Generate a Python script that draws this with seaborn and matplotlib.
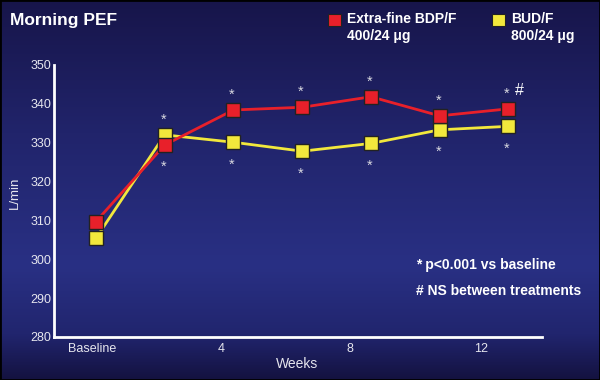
import numpy as np
import pandas as pd
import matplotlib
matplotlib.use("Agg")
import matplotlib.pyplot as plt
import seaborn as sns
from matplotlib.colors import LinearSegmentedColormap
from matplotlib.patches import Rectangle

# data
weeks = [0, 2, 4, 6, 8, 10, 12]
bdp_f = [309.7, 329.4, 338.4, 339.1, 341.8, 336.9, 338.7]
bud_f = [305.4, 332.0, 330.1, 327.8, 329.8, 333.3, 334.2]
tick_weeks = [-0.1, 3.65, 7.4, 11.2]
tick_labels = ["Baseline", "4", "8", "12"]
y_ticks = [280, 290, 300, 310, 320, 330, 340, 350]

red = "#e8202a"
yellow = "#f2e83c"
txt = "#e6e6ee"

sns.set_theme(style="white")
plt.rcParams["font.family"] = ["Liberation Sans", "DejaVu Sans"]

fig = plt.figure(figsize=(6, 3.8), dpi=100)

# navy gradient background
bg = fig.add_axes([0, 0, 1, 1], zorder=-10)
cmap = LinearSegmentedColormap.from_list(
    "navy", [(0, "#17154a"), (0.35, "#21246b"), (0.7, "#293084"), (0.88, "#21256e"), (1, "#141240")])
bg.imshow(np.linspace(0, 1, 256).reshape(-1, 1), aspect="auto", cmap=cmap, extent=[0, 1, 0, 1])
bg.axis("off")
fig.add_artist(Rectangle((0, 0), 1, 1, transform=fig.transFigure, fill=False, ec="black", lw=2))

ax = fig.add_axes([0.09, 0.1132, 0.813, 0.716])
ax.patch.set_alpha(0)

df = pd.DataFrame({
    "Weeks": weeks + weeks,
    "PEF": bud_f + bdp_f,
    "Treatment": ["BUD/F"] * len(weeks) + ["BDP/F"] * len(weeks),
})
sns.lineplot(data=df, x="Weeks", y="PEF", hue="Treatment", hue_order=["BUD/F", "BDP/F"],
             palette={"BUD/F": yellow, "BDP/F": red}, marker="s", markersize=9.5,
             markeredgecolor="#222222", markeredgewidth=1, linewidth=2, legend=False, ax=ax)

# significance stars above/below each pair of points
for w, a, b in zip(weeks[1:], bdp_f[1:], bud_f[1:]):
    ax.annotate("*", xy=(w, max(a, b)), xytext=(-1, 11), textcoords="offset points",
                ha="center", va="center", color="#d8d8e0", fontsize=10.5)
    ax.annotate("*", xy=(w, min(a, b)), xytext=(-1, -16), textcoords="offset points",
                ha="center", va="center", color="#d8d8e0", fontsize=10.5)
ax.annotate("#", xy=(weeks[-1], bdp_f[-1]), xytext=(8, 13), textcoords="offset points",
            ha="center", va="center", color="white", fontsize=11.5)

ax.set_xlim(-1.22, 12.97)
ax.set_ylim(280, 350)
ax.set_xticks(tick_weeks)
ax.set_xticklabels(tick_labels)
ax.set_yticks(y_ticks)
ax.tick_params(length=0, labelcolor=txt, labelsize=9)
ax.tick_params(axis="y", pad=2)
ax.tick_params(axis="x", pad=4)
for s in ["top", "right"]:
    ax.spines[s].set_visible(False)
for s in ["left", "bottom"]:
    ax.spines[s].set_color("white")
    ax.spines[s].set_linewidth(2)

ax.set_xlabel("Weeks", color=txt, fontsize=10)
ax.xaxis.set_label_coords(0.498, -0.072)
ax.set_ylabel("L/min", color=txt, fontsize=9.5)
ax.yaxis.set_label_coords(-0.068, 0.53)

fig.text(10 / 600, 1 - 20 / 380, "Morning PEF", color="white", fontsize=12.5,
         fontweight="bold", va="center")

# legend drawn by hand
for x0, col, l1, l2 in [(328, red, "Extra-fine BDP/F", "400/24 μg"),
                        (492, yellow, "BUD/F", "800/24 μg")]:
    fig.add_artist(Rectangle((x0 / 600, 1 - 26 / 380), 13 / 600, 12 / 380,
                             transform=fig.transFigure, fc=col, ec="#222222", lw=0.8))
    fig.text((x0 + 19) / 600, 1 - 19 / 380, l1, color="white", fontsize=10,
             fontweight="bold", va="center")
    fig.text((x0 + 19) / 600, 1 - 36 / 380, l2, color="white", fontsize=10,
             fontweight="bold", va="center")

fig.text(416 / 600, 1 - 265 / 380, "* p<0.001 vs baseline", color="white",
         fontsize=10, fontweight="bold", va="center")
fig.text(416 / 600, 1 - 291 / 380, "# NS between treatments", color="white",
         fontsize=10, fontweight="bold", va="center")

plt.savefig("out.png", dpi=100)
